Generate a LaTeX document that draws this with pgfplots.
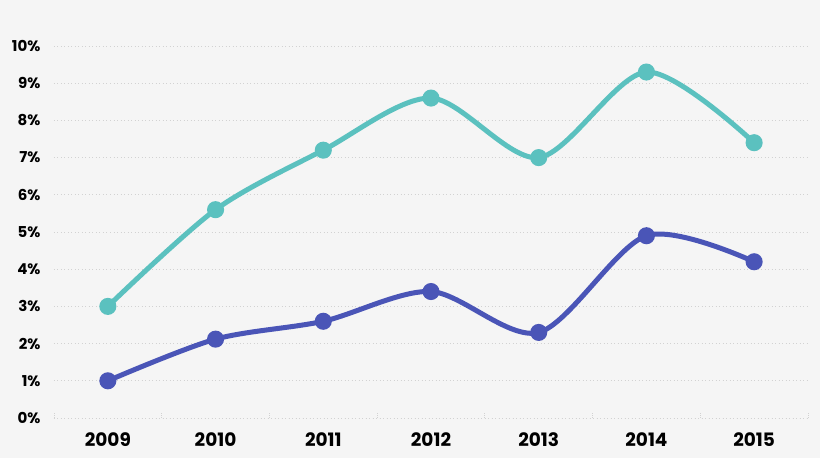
\documentclass[border=0pt]{standalone}
\usepackage{pgfplots}
\pgfplotsset{compat=1.18}
\usepackage{fontspec}
\setmainfont{Poppins}
\definecolor{bgcol}{HTML}{F5F5F5}
\definecolor{teal1}{HTML}{5BC1BF}
\definecolor{purp1}{HTML}{4A55B7}
\definecolor{gridc}{HTML}{D2D2D2}
\begin{document}
\begin{tikzpicture}
	% page background, 820 x 458
	\fill[bgcol] (-54pt,-40pt) rectangle (766pt,418pt);
	\begin{axis}[
		at={(0,0)}, anchor=south west,
		scale only axis, width=754pt, height=372pt,
		xmin=-0.5, xmax=6.5, ymin=0, ymax=10,
		axis x line*=bottom, axis y line*=left,
		x axis line style={draw=gridc, line width=0.8pt, dash pattern=on 1pt off 2.5pt},
		y axis line style={draw=none},
		xtick={0,...,6},
		xticklabels={2009,2010,2011,2012,2013,2014,2015},
		minor xtick={-0.5,0.5,...,6.5},
		ytick={0,1,...,10},
		yticklabel={\pgfmathprintnumber[assume math mode=true]{\tick}\%},
		major tick length=0pt,
		minor tick length=5pt,
		tick align=inside,
		minor tick style={draw=gridc, line width=0.8pt, dash pattern=on 1pt off 1pt},
		ymajorgrids,
		grid style={draw=gridc, line width=0.8pt, dash pattern=on 1pt off 2.5pt},
		xticklabel style={font=\fontsize{18.5}{18.5}\selectfont\bfseries, yshift=-11pt},
		yticklabel style={font=\fontsize{15}{15}\selectfont\bfseries, xshift=-10pt},
		clip=false,
	]
		\addplot[teal1, line width=5pt, smooth, tension=0.5, mark=*, mark size=6pt] coordinates {
			(0,3.0) (1,5.6) (2,7.2) (3,8.6) (4,7.0) (5,9.3) (6,7.4)
		};
		\addplot[purp1, line width=5pt, smooth, tension=0.5, mark=*, mark size=6pt] coordinates {
			(0,1.0) (1,2.12) (2,2.6) (3,3.4) (4,2.3) (5,4.9) (6,4.2)
		};
	\end{axis}
\end{tikzpicture}
\end{document}
